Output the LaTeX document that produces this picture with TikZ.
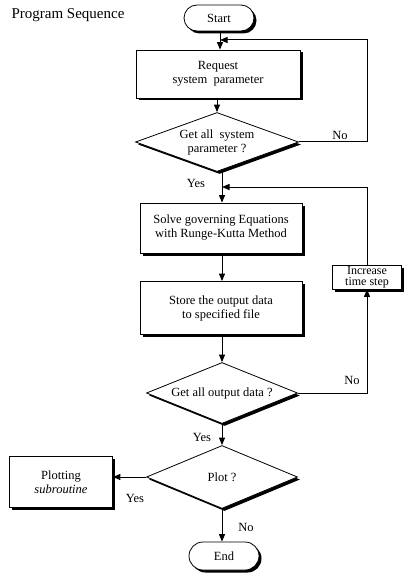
\documentclass[tikz,border=0pt]{standalone}
\usepackage{fontspec}
\setmainfont{Liberation Serif}
\usetikzlibrary{shapes.geometric,shapes.misc,arrows.meta,shadows,calc}
\begin{document}
\begin{tikzpicture}[x=1pt,y=-1pt,
  font=\fontsize{12.5}{14}\selectfont,
  shad/.style={drop shadow={shadow xshift=2.5pt,shadow yshift=-2.5pt,fill=black,opacity=1}},
  procbox/.style={draw,fill=white,line width=0.8pt,align=center,inner sep=1pt,shad},
  term/.style={rounded rectangle,draw,fill=white,line width=0.8pt,inner sep=1pt,shad},
  decision/.style={diamond,draw,fill=white,line width=0.8pt,align=center,inner sep=0pt,shad},
  arr/.style={line width=1pt,-{Triangle[length=7.5pt,width=6pt]}},
  lbl/.style={inner sep=1pt}]
\useasboundingbox (0,0) rectangle (412,580);
\node[anchor=west,font=\fontsize{15}{17}\selectfont] (title) at (8,15) {Program Sequence};
\node[term,minimum width=72pt,minimum height=26pt] (start) at (219,18) {Start};
\node[procbox,minimum width=164pt,minimum height=48pt] (req) at (218,74) {Request\\system\ \ parameter};
\node[decision,shape aspect=2.76,minimum width=163pt,minimum height=59pt] (d1) at (217,142) {Get all\ \ system\\parameter ?};
\node[procbox,minimum width=162pt,minimum height=50pt] (solve) at (221,228) {Solve governing Equations\\with Runge-Kutta Method};
\node[procbox,minimum width=162pt,minimum height=53pt] (store) at (221,308) {Store the output data\\to specified file};
\node[procbox,minimum width=69pt,minimum height=24pt,inner sep=0.5pt,font=\fontsize{12}{11}\selectfont] (inc) at (367,277) {Increase\\time step};
\node[decision,shape aspect=2.48,minimum width=151pt,minimum height=61pt] (d2) at (222,393) {Get all output data ?};
\node[decision,shape aspect=2.4,minimum width=151pt,minimum height=63pt] (d3) at (222,477) {Plot ?};
\node[procbox,minimum width=103pt,minimum height=51pt] (plot) at (61,482) {Plotting\\\textit{subroutine}};
\node[term,minimum width=72pt,minimum height=28pt] (end) at (224,556) {End};
% connectors
\coordinate (j1) at (220,40);
\coordinate (r1) at (367,0);
\coordinate (j2) at (222,187);
\draw[arr] (start.south -| j1) -- (req.north -| j1);
\draw[arr] (req.south -| d1.north) -- (d1.north);
\draw[arr] (d1.east) -| (r1 |- j1) -- (j1);
\node[lbl] (no1) at (340,135) {No};
\draw[arr] (d1.south -| j2) -- (solve.north -| j2);
\node[lbl] (yes1) at (196,183) {Yes};
\draw[arr] (inc.north) |- (j2);
\draw[arr] (solve.south -| j2) -- (store.north -| j2);
\draw[arr] (store.south -| d2.north) -- (d2.north);
\draw[arr] (d2.east) -| (inc.south);
\node[lbl] (no2) at (352,380) {No};
\draw[arr] (d2.south) -- (d3.north);
\node[lbl] (yes2) at (202,437) {Yes};
\draw[arr] (d3.west) -- (plot.east |- d3.west);
\node[lbl] (yes3) at (135,498) {Yes};
\draw[arr] (d3.south) -- (end.north -| d3.south);
\node[lbl] (no3) at (246,527) {No};
\end{tikzpicture}
\end{document}
